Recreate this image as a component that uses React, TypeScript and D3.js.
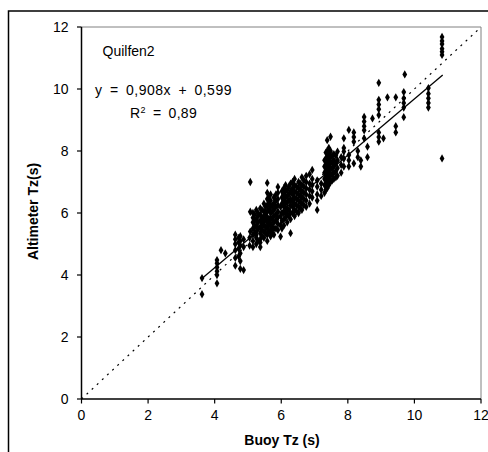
import React from "react";
import * as d3 from "d3";

// Buoy Tz columns and the altimeter Tz values read at each
const buoyTz: number[] = [
  3.62, 4.07, 4.19, 4.32, 4.62, 4.72, 4.77, 4.87, 5.07, 5.15, 5.25, 5.37, 5.48, 5.58,
  5.68, 5.78, 5.9, 5.98, 6.08, 6.18, 6.28, 6.4, 6.52, 6.62, 6.75, 6.85, 6.93, 7.08,
  7.2, 7.3, 7.38, 7.48, 7.58, 7.69, 7.8, 7.88, 8.03, 8.18, 8.3, 8.39, 8.49, 8.59,
  8.74, 8.93, 9.07, 9.19, 9.44, 9.68, 9.71, 10.42, 10.83,
  5.05, 5.2, 5.3, 5.42, 5.53, 5.63, 5.73, 5.84, 6.02, 6.13, 6.23, 6.34, 6.46, 6.57,
  6.68, 7.34, 7.43, 7.53, 7.64,
];
const altimeterTz: number[][] = [
  [3.9, 3.38],
  [4.0, 4.12, 4.25, 4.38, 4.48, 3.73],
  [4.8],
  [4.7],
  [4.3, 4.55, 4.8, 5.0, 5.15, 5.3],
  [4.6, 4.85, 5.05, 5.2],
  [4.2, 4.45, 4.7, 4.95, 5.1, 5.25],
  [4.16, 4.9, 5.15],
  [7.0, 6.04, 5.4],
  [4.9, 5.1, 5.3, 5.5, 5.7, 5.85, 6.0],
  [5.0, 5.2, 5.4, 5.6, 5.8, 6.1, 5.3],
  [4.9, 5.15, 5.35, 5.55, 5.75, 5.95, 6.15, 5.05],
  [5.2, 5.4, 5.6, 5.75, 5.9, 6.05, 6.3],
  [5.3, 5.5, 5.7, 5.87, 6.05, 6.25, 6.45, 6.65, 6.97, 5.1],
  [5.25, 5.45, 5.65, 5.85, 6.0, 6.2, 6.4, 6.6],
  [5.3, 5.5, 5.7, 5.9, 6.1, 6.3, 6.5],
  [5.45, 5.65, 5.85, 6.05, 6.25, 6.45, 6.65, 6.84],
  [5.24, 5.6, 5.9, 6.2],
  [5.6, 5.8, 6.0, 6.2, 6.4, 6.6, 6.8],
  [5.7, 5.95, 6.15, 6.35, 6.55, 6.75],
  [5.35, 5.8, 6.0, 6.25, 6.45, 6.7, 6.95],
  [5.9, 6.1, 6.3, 6.5, 6.7, 6.9, 7.1],
  [6.0, 6.2, 6.4, 6.6, 6.8, 7.0],
  [6.1, 6.3, 6.5, 6.7, 6.9, 7.15],
  [6.2, 6.4, 6.6, 6.8, 7.0, 7.2],
  [6.3, 6.55, 6.75, 6.95, 7.25],
  [6.5, 6.7, 6.9, 7.1, 7.39],
  [6.1, 6.4, 6.6, 6.85, 7.05],
  [6.55, 6.75, 6.95],
  [6.65, 6.9, 7.1, 7.3, 7.5, 7.7],
  [6.8, 7.0, 7.2, 7.4, 7.6, 7.8, 8.0, 8.35],
  [7.0, 7.2, 7.4, 7.6, 7.8, 8.0, 8.46],
  [7.1, 7.3, 7.5, 7.7, 7.9],
  [7.2, 7.45, 7.7, 7.98],
  [7.3, 7.55, 7.8],
  [7.5, 7.75, 7.98, 8.1, 8.41],
  [7.5, 7.7, 7.87, 8.68],
  [8.3, 8.45, 8.6, 7.6],
  [7.8, 8.0],
  [7.5, 7.7],
  [8.41, 8.67, 8.8, 8.95, 9.1],
  [8.14, 7.8],
  [9.05],
  [8.3, 8.45, 8.6, 9.16, 9.35, 9.5, 9.65, 10.2],
  [8.41],
  [9.73],
  [8.6, 8.8, 9.73],
  [9.09, 9.4, 9.55, 9.7, 9.9],
  [10.47],
  [9.4, 9.55, 9.7, 9.85, 10.03],
  [11.1, 11.2, 11.3, 11.45, 11.55, 11.68, 7.76],
  [4.95, 5.2],
  [5.35, 5.55, 5.75, 5.95],
  [5.1, 5.5, 5.7, 5.9, 6.0],
  [5.25, 5.45, 5.65, 5.85, 6.1],
  [5.35, 5.55, 5.8, 6.0, 6.2],
  [5.4, 5.6, 5.8, 6.1, 6.3, 6.5],
  [5.35, 5.55, 5.8, 6.05, 6.25],
  [5.5, 5.75, 5.95, 6.2, 6.4, 6.6],
  [5.5, 5.75, 6.0, 6.3, 6.5, 6.7],
  [5.85, 6.05, 6.3, 6.5, 6.7, 6.9],
  [5.9, 6.1, 6.4, 6.6, 6.85],
  [6.0, 6.2, 6.4, 6.6, 6.8, 7.0],
  [6.05, 6.25, 6.45, 6.65, 6.85],
  [6.15, 6.35, 6.55, 6.75, 6.95],
  [6.25, 6.45, 6.65, 6.85, 7.05],
  [6.75, 6.95, 7.15, 7.35, 7.55, 7.75, 7.95],
  [6.9, 7.1, 7.3, 7.5, 7.7, 7.9, 8.1],
  [7.05, 7.25, 7.45, 7.65, 7.85],
  [7.15, 7.35, 7.6, 7.85],
];

const ticks: number[] = [0, 2, 4, 6, 8, 10, 12];
const slope = 0.908;
const intercept = 0.599;
const fitRange: number[] = [3.6, 10.85];
const stationLabel = "Quilfen2";
const equationLabel = "y = 0,908x + 0,599";
const r2Value = "0,89";
const xTitle = "Buoy Tz (s)";
const yTitle = "Altimeter Tz(s)";

export default function App() {
  const x = d3.scaleLinear().domain([0, 12]).range([81.5, 481]);
  const y = d3.scaleLinear().domain([0, 12]).range([399, 27]);
  const points: [number, number][] = [];
  buoyTz.forEach((bx, i) => altimeterTz[i].forEach((ay) => points.push([bx, ay])));
  const diamond = d3.symbol().type(d3.symbolDiamond).size(20)();
  const font = "'Liberation Sans', Arial, sans-serif";

  return (
    <svg width={488} height={452} style={{ position: "absolute", left: 0, top: 0, fontFamily: font }}>
      <rect x={0} y={0} width={488} height={452} fill="#fff" />
      <rect x={8.5} y={11} width={600} height={600} fill="none" stroke="#000" strokeWidth={1.5} />
      {/* plot frame */}
      <line x1={x(0)} x2={x(12)} y1={y(12)} y2={y(12)} stroke="#808080" strokeWidth={1} />
      <line x1={x(12)} x2={x(12)} y1={y(12)} y2={y(0)} stroke="#808080" strokeWidth={1} />
      {/* identity line */}
      <line x1={x(0)} y1={y(0)} x2={x(12)} y2={y(12)} stroke="#000" strokeWidth={1.2} strokeDasharray="2,5" />
      {/* points */}
      {points.map((p, i) => (
        <path key={i} d={diamond} transform={`translate(${x(p[0])},${y(p[1])})`} fill="#000" />
      ))}
      {/* regression */}
      <line
        x1={x(fitRange[0])}
        y1={y(slope * fitRange[0] + intercept)}
        x2={x(fitRange[1])}
        y2={y(slope * fitRange[1] + intercept)}
        stroke="#000"
        strokeWidth={1.3}
      />
      {/* axes */}
      <line x1={x(0)} x2={x(0)} y1={y(12)} y2={y(0)} stroke="#000" strokeWidth={1.5} />
      <line x1={x(0)} x2={x(12)} y1={y(0)} y2={y(0)} stroke="#000" strokeWidth={1.5} />
      {ticks.map((t) => (
        <g key={"y" + t}>
          <line x1={x(0) - 4.5} x2={x(0)} y1={y(t)} y2={y(t)} stroke="#000" strokeWidth={1.2} />
          <text x={68.5} y={y(t)} dy="0.36em" textAnchor="end" fontSize={14}>
            {t}
          </text>
        </g>
      ))}
      {ticks.map((t) => (
        <g key={"x" + t}>
          <line x1={x(t)} x2={x(t)} y1={y(0)} y2={y(0) + 4.5} stroke="#000" strokeWidth={1.2} />
          <text x={x(t)} y={420} textAnchor="middle" fontSize={14}>
            {t}
          </text>
        </g>
      ))}
      <text x={282} y={445} textAnchor="middle" fontSize={14} fontWeight="bold">
        {xTitle}
      </text>
      <text transform="translate(38,211.5) rotate(-90)" textAnchor="middle" fontSize={14} fontWeight="bold">
        {yTitle}
      </text>
      <text x={102.5} y={56} fontSize={14}>
        {stationLabel}
      </text>
      <text x={95} y={95} fontSize={14} letterSpacing={0.5} wordSpacing={3}>
        {equationLabel}
      </text>
      <text x={130} y={117.5} fontSize={14} letterSpacing={0.3} wordSpacing={3}>
        R<tspan fontSize={9} dy={-5}>2</tspan>
        <tspan dy={5}>{" = " + r2Value}</tspan>
      </text>
    </svg>
  );
}
